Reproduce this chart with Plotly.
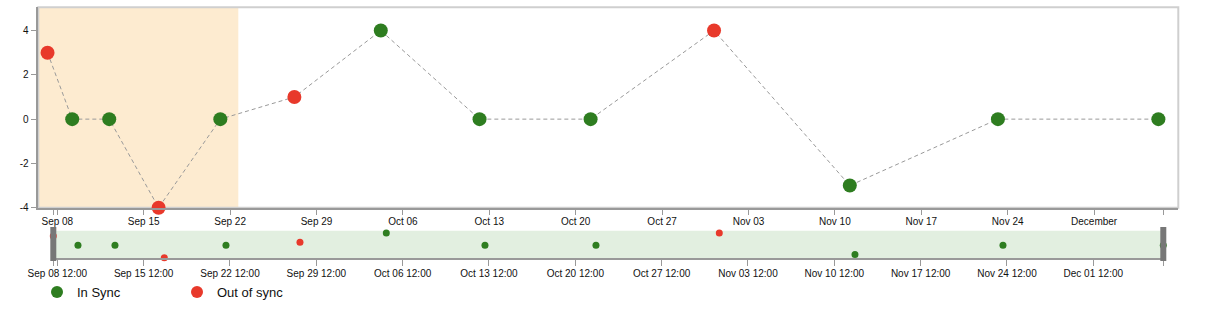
import pandas as pd
import plotly.graph_objects as go

# ---------------- data ----------------
dates = ["2019-09-07 05:00", "2019-09-09 05:00", "2019-09-12 05:00", "2019-09-16 05:00",
         "2019-09-21 05:00", "2019-09-27 05:00", "2019-10-04 05:00", "2019-10-12 05:00",
         "2019-10-21 05:00", "2019-10-31 05:00", "2019-11-11 05:00", "2019-11-23 05:00",
         "2019-12-06 05:00"]
values = [3, 0, 0, -4, 0, 1, 4, 0, 0, 4, -3, 0, 0]
status = ["Out of sync", "In Sync", "In Sync", "Out of sync", "In Sync", "Out of sync",
          "In Sync", "In Sync", "In Sync", "Out of sync", "In Sync", "In Sync", "In Sync"]

main_tick_dates = ["2019-09-08", "2019-09-15", "2019-09-22", "2019-09-29", "2019-10-06",
                   "2019-10-13", "2019-10-20", "2019-10-27", "2019-11-03", "2019-11-10",
                   "2019-11-17", "2019-11-24", "2019-12-01"]
main_tick_labels = ["Sep 08", "Sep 15", "Sep 22", "Sep 29", "Oct 06", "Oct 13", "Oct 20",
                    "Oct 27", "Nov 03", "Nov 10", "Nov 17", "Nov 24", "December"]
brush_tick_labels = ["Sep 08 12:00", "Sep 15 12:00", "Sep 22 12:00", "Sep 29 12:00",
                     "Oct 06 12:00", "Oct 13 12:00", "Oct 20 12:00", "Oct 27 12:00",
                     "Nov 03 12:00", "Nov 10 12:00", "Nov 17 12:00", "Nov 24 12:00",
                     "Dec 01 12:00"]
y_tick_vals = [-4, -2, 0, 2, 4]
y_tick_labels = ["-4", "-2", "0", "2", "4"]
highlight_end = "2019-09-22 16:00"

colors = {"In Sync": "#2e7d20", "Out of sync": "#e8392b"}

# ---------------- layout geometry (pixels) ----------------
W, H = 1211, 330
PX_PER_DAY = 86.4 / 7.0
main_l, main_r, main_t, main_b = 38.3, 1178.3, 7.3, 207.7
br_l, br_r, br_t, br_b = 53.3, 1163.3, 230.7, 258.3

t0 = pd.Timestamp(main_tick_dates[0])
tick0_px = 57.3
def px_to_date(px):
    return t0 + pd.Timedelta(days=(px - tick0_px) / PX_PER_DAY)

main_range = [px_to_date(main_l), px_to_date(main_r)]
outer_ticks = [px_to_date(br_l), px_to_date(br_r)]

dts = pd.to_datetime(dates)
brush_shift = pd.Timedelta(hours=11.2)
brush_tickvals = [pd.Timestamp(d) - brush_shift for d in main_tick_dates]

fig = go.Figure()

# dashed connecting line (main)
fig.add_trace(go.Scatter(x=dts, y=values, mode="lines",
                         line=dict(color="#999999", width=1, dash="4px,3px"),
                         showlegend=False, hoverinfo="skip", xaxis="x", yaxis="y"))
for s in ["In Sync", "Out of sync"]:
    xs = [d for d, st in zip(dts, status) if st == s]
    ys = [v for v, st in zip(values, status) if st == s]
    fig.add_trace(go.Scatter(x=xs, y=ys, mode="markers", name=s,
                             marker=dict(color=colors[s], size=14, line=dict(width=0)),
                             cliponaxis=False, xaxis="x", yaxis="y"))
    fig.add_trace(go.Scatter(x=xs, y=ys, mode="markers", name=s, showlegend=False,
                             marker=dict(color=colors[s], size=7, line=dict(width=0)),
                             cliponaxis=False, xaxis="x2", yaxis="y2"))

font = dict(family="Liberation Sans, Arial, sans-serif", size=10, color="#111")

fig.update_layout(
    width=W, height=H, margin=dict(l=0, r=0, t=0, b=0, autoexpand=False),
    paper_bgcolor="white", plot_bgcolor="rgba(0,0,0,0)",
    font=font,
    xaxis=dict(domain=[main_l / W, main_r / W], range=main_range, type="date",
               tickvals=main_tick_dates + outer_ticks,
               ticktext=main_tick_labels + ["", ""],
               ticks="outside", ticklen=6, tickcolor="#999", tickwidth=1,
               ticklabelstandoff=-2,
               showline=True, linecolor="#999", linewidth=1.5, automargin=False,
               showgrid=False, zeroline=False, anchor="y", fixedrange=True),
    yaxis=dict(domain=[1 - main_b / H, 1 - main_t / H], range=[-4, 5.05],
               tickvals=y_tick_vals, ticktext=y_tick_labels,
               ticks="outside", ticklen=6, tickcolor="#999", tickwidth=1,
               showline=True, linecolor="#999", linewidth=1.5, automargin=False,
               showgrid=False, zeroline=False, anchor="x"),
    xaxis2=dict(domain=[br_l / W, br_r / W], range=[dts[0], dts[-1]], type="date",
                tickvals=brush_tickvals + [dts[0], dts[-1]],
                ticktext=brush_tick_labels + ["", ""],
                ticks="outside", ticklen=6, tickcolor="#999", tickwidth=1,
                ticklabelstandoff=-1,
                showline=True, linecolor="#999", linewidth=1.5, automargin=False,
                showgrid=False, zeroline=False, anchor="y2"),
    yaxis2=dict(domain=[1 - br_b / H, 1 - br_t / H], range=[-4.19, 4.74],
                showticklabels=False, ticks="", showline=False, showgrid=False,
                zeroline=False, anchor="x2", automargin=False),
    legend=dict(orientation="h", x=(37 / W), y=1 - 277 / H, xanchor="left", yanchor="top",
                font=dict(family="Liberation Sans, Arial, sans-serif", size=13, color="#111"),
                itemsizing="constant", entrywidth=95, entrywidthmode="pixels",
                bgcolor="rgba(0,0,0,0)"),
    shapes=[
        dict(type="rect", xref="x", yref="y domain", x0=main_range[0], x1=highlight_end,
             y0=0, y1=1, fillcolor="#fdebd0", line=dict(width=0), layer="below"),
        dict(type="rect", xref="x domain", yref="y domain", x0=0, x1=1, y0=0, y1=1,
             line=dict(color="#cfcfcf", width=2), layer="below"),
        dict(type="rect", xref="x2 domain", yref="y2 domain", x0=0, x1=1, y0=0, y1=1,
             fillcolor="#e2efe0", line=dict(width=0), layer="below"),
        dict(type="rect", xref="x2 domain", yref="y2 domain",
             x0=-3 / (br_r - br_l), x1=3 / (br_r - br_l),
             y0=-(261 - br_b) / (br_b - br_t), y1=1 + (br_t - 227) / (br_b - br_t),
             fillcolor="#777777", line=dict(width=0), layer="above"),
        dict(type="rect", xref="x2 domain", yref="y2 domain",
             x0=1 - 3 / (br_r - br_l), x1=1 + 3 / (br_r - br_l),
             y0=-(261 - br_b) / (br_b - br_t), y1=1 + (br_t - 227) / (br_b - br_t),
             fillcolor="#777777", line=dict(width=0), layer="above"),
    ],
)

fig.write_html("out.html")
